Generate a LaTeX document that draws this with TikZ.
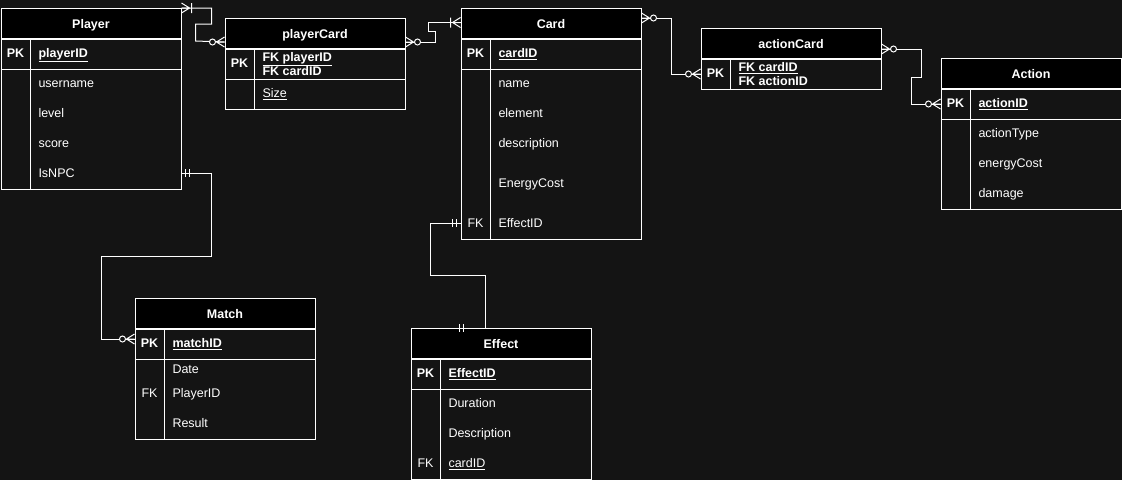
\documentclass[tikz,border=0pt]{standalone}
\usepackage{fontspec}
\setmainfont{Liberation Sans}
\usepackage{tikz}
\usetikzlibrary{positioning}
\definecolor{bg}{HTML}{141414}

\begin{document}
\begin{tikzpicture}[x=1pt, y=-1pt, color=white, line width=1pt, font=\fontsize{12.5}{15}\selectfont,
    every node/.style={inner sep=0pt, text=white},
    table head/.style={draw=white, fill=black, minimum width=180pt, minimum height=30pt, anchor=north west,
        text height=10.5pt, text depth=1.5pt, font=\fontsize{12.5}{15}\selectfont\bfseries},
    table body/.style={draw=white, fill=bg, minimum width=180pt},
    key/.style={text height=10.5pt, text depth=1.5pt},
    pk key/.style={key, font=\fontsize{12.5}{15}\selectfont\bfseries},
    field/.style={anchor=west, text height=10.5pt, text depth=1.5pt},
    pk field/.style={field, font=\fontsize{12.5}{15}\selectfont\bfseries},
    zeromany/.pic={\draw[fill=bg] (-12,0) circle (3pt);
        \draw (-8,0) -- (0,-5) (-8,0) -- (0,0) (-8,0) -- (0,5);},
    onemany/.pic={\draw (-8,0) -- (0,-5) (-8,0) -- (0,0) (-8,0) -- (0,5) (-10,-5) -- (-10,5);},
    onlyone/.pic={\draw (-4,-4) -- (-4,4) (-8,-4) -- (-8,4);}]
    \useasboundingbox (0,0) rectangle (1122,480);
    \fill[bg] (0,0) rectangle (1122,480);

    % Player
    \node[table head] (player) at (0.5,8) {Player};
    \node[table body, minimum height=150pt, below=0pt of player] (playerBody) {};
    \draw ([yshift=-30pt]playerBody.north west) -- ([yshift=-30pt]playerBody.north east);
    \draw ([xshift=30pt]playerBody.north west) -- ([xshift=30pt]playerBody.south west);
    \node[pk key] (playerPK) at (15.5,53) {PK};
    \node[pk field] (playerID) at (38,53) {\underline{playerID}};
    \node[field] (playerUsername) at (38,83) {username};
    \node[field] (playerLevel) at (38,113) {level};
    \node[field] (playerScore) at (38,143) {score};
    \node[field] (playerIsNPC) at (38,173) {IsNPC};

    % playerCard
    \node[table head] (playerCard) at (224.5,18) {playerCard};
    \node[table body, minimum height=60pt, below=0pt of playerCard] (playerCardBody) {};
    \draw ([yshift=-30pt]playerCardBody.north west) -- ([yshift=-30pt]playerCardBody.north east);
    \draw ([xshift=30pt]playerCardBody.north west) -- ([xshift=30pt]playerCardBody.south west);
    \node[pk key] (playerCardPK) at (239.5,63) {PK};
    \node[pk field] (playerCardFK1) at (262,57) {\underline{FK playerID}};
    \node[pk field] (playerCardFK2) at (262,71) {FK cardID};
    \node[field] (playerCardSize) at (262,93) {\underline{Size}};

    % Card
    \node[table head] (card) at (460.5,8) {Card};
    \node[table body, minimum height=200pt, below=0pt of card] (cardBody) {};
    \draw ([yshift=-30pt]cardBody.north west) -- ([yshift=-30pt]cardBody.north east);
    \draw ([xshift=30pt]cardBody.north west) -- ([xshift=30pt]cardBody.south west);
    \node[pk key] (cardPK) at (475.5,53) {PK};
    \node[pk field] (cardID) at (498,53) {\underline{cardID}};
    \node[field] (cardName) at (498,83) {name};
    \node[field] (cardElement) at (498,113) {element};
    \node[field] (cardDescription) at (498,143) {description};
    \node[field] (cardEnergyCost) at (498,183) {EnergyCost};
    \node[key] (cardFK) at (475.5,223) {FK};
    \node[field] (cardEffectID) at (498,223) {EffectID};

    % actionCard
    \node[table head] (actionCard) at (700.5,28) {actionCard};
    \node[table body, minimum height=30pt, below=0pt of actionCard] (actionCardBody) {};
    \draw ([xshift=30pt]actionCardBody.north west) -- ([xshift=30pt]actionCardBody.south west);
    \node[pk key] (actionCardPK) at (715.5,73) {PK};
    \node[pk field] (actionCardFK1) at (738,67) {\underline{FK cardID}};
    \node[pk field] (actionCardFK2) at (738,81) {FK actionID};

    % Action
    \node[table head] (action) at (940.5,58) {Action};
    \node[table body, minimum height=120pt, below=0pt of action] (actionBody) {};
    \draw ([yshift=-30pt]actionBody.north west) -- ([yshift=-30pt]actionBody.north east);
    \draw ([xshift=30pt]actionBody.north west) -- ([xshift=30pt]actionBody.south west);
    \node[pk key] (actionPK) at (955.5,103) {PK};
    \node[pk field] (actionID) at (978,103) {\underline{actionID}};
    \node[field] (actionType) at (978,133) {actionType};
    \node[field] (actionEnergyCost) at (978,163) {energyCost};
    \node[field] (actionDamage) at (978,193) {damage};

    % Match
    \node[table head] (match) at (134.5,298) {Match};
    \node[table body, minimum height=110pt, below=0pt of match] (matchBody) {};
    \draw ([yshift=-30pt]matchBody.north west) -- ([yshift=-30pt]matchBody.north east);
    \draw ([xshift=30pt]matchBody.north west) -- ([xshift=30pt]matchBody.south west);
    \node[pk key] (matchPK) at (149.5,343) {PK};
    \node[pk field] (matchID) at (172,343) {\underline{matchID}};
    \node[field] (matchDate) at (172,369) {Date};
    \node[key] (matchFK) at (149.5,393) {FK};
    \node[field] (matchPlayerID) at (172,393) {PlayerID};
    \node[field] (matchResult) at (172,423) {Result};

    % Effect
    \node[table head] (effect) at (410.5,328) {Effect};
    \node[table body, minimum height=120pt, below=0pt of effect] (effectBody) {};
    \draw ([yshift=-30pt]effectBody.north west) -- ([yshift=-30pt]effectBody.north east);
    \draw ([xshift=30pt]effectBody.north west) -- ([xshift=30pt]effectBody.south west);
    \node[pk key] (effectPK) at (425.5,373) {PK};
    \node[pk field] (effectID) at (448,373) {\underline{EffectID}};
    \node[field] (effectDuration) at (448,403) {Duration};
    \node[field] (effectDescription) at (448,433) {Description};
    \node[key] (effectFK) at (425.5,463) {FK};
    \node[field] (effectCardID) at (448,463) {\underline{cardID}};

    % Lines
    \draw (player.north east) -- ++(30,0) -- ++(0,16) -- ++(-16,0) -- ++(0,17) -- ([yshift=7pt]playerCard.south west);
    \draw ([yshift=7pt]playerCard.south east) -- ++(30,0) -- ++(0,-11) -- ++(-7,0) |- ([yshift=1pt]card.west);
    \draw ([yshift=-10pt]card.north east) -- ++(30,0) |- ([yshift=-15pt]actionCard.south west);
    \draw ([yshift=10pt]actionCard.south east) -- ++(40,0) -- ++(0,28) -- ++(-10,0) |- ([yshift=-15pt]action.south west);
    \draw (playerBody.east |- playerIsNPC) -- ++(30,0) -- ++(0,83) -- ++(-110,0) |- ([yshift=-10pt]match.south west);
    \draw (cardBody.west |- cardEffectID) -- ++(-30,0) -- ++(0,52) -| ([xshift=75pt]effect.north west);

    % Ends
    \pic[rotate=180] at (player.north east) {onemany};
    \pic at ([yshift=7pt]playerCard.south west) {zeromany};
    \pic[rotate=180] at ([yshift=7pt]playerCard.south east) {zeromany};
    \pic at ([yshift=1pt]card.west) {onemany};
    \pic[rotate=180] at ([yshift=-10pt]card.north east) {zeromany};
    \pic at ([yshift=-15pt]actionCard.south west) {zeromany};
    \pic[rotate=180] at ([yshift=10pt]actionCard.south east) {zeromany};
    \pic at ([yshift=-15pt]action.south west) {zeromany};
    \pic[rotate=180] at (playerBody.east |- playerIsNPC) {onlyone};
    \pic at ([yshift=-10pt]match.south west) {zeromany};
    \pic at (cardBody.west |- cardEffectID) {onlyone};
    \pic at ([xshift=56.5pt]effect.north west) {onlyone};
\end{tikzpicture}
\end{document}
